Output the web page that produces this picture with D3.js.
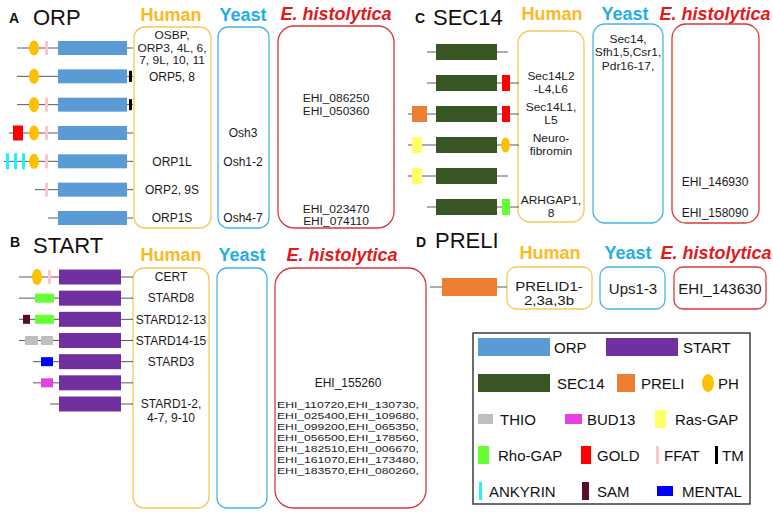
<!DOCTYPE html>
<html><head><meta charset="utf-8">
<script src="https://cdn.jsdelivr.net/npm/d3@7"></script>
<style>body{margin:0;background:#fff}svg{display:block}</style>
</head><body><svg id="c" width="773" height="515"></svg>
<script>
// ================= DATA =================
const domainTypes = ["ORP","START","SEC14","PRELI","PH","THIO","BUD13","Ras-GAP","Rho-GAP","GOLD","FFAT","TM","ANKYRIN","SAM","MENTAL"];

// domain architectures (positions in relative residue units along each protein)
const orpRows = [
  {span:[13,129], domains:[["PH",25,35],["FFAT",41,44],["ORP",54,123]]},
  {span:[13,129], domains:[["PH",25,35],["ORP",54,123],["TM",125,128]]},
  {span:[13,129], domains:[["PH",25,35],["FFAT",41,44],["ORP",54,123],["TM",125,128]]},
  {span:[5,129],  domains:[["GOLD",9,19],["PH",25,35],["FFAT",41,44],["ORP",54,123]]},
  {span:[0,129],  domains:[["ANKYRIN",2,5],["ANKYRIN",10,13],["ANKYRIN",18,21],["PH",25,35],["FFAT",41,44],["ORP",54,123]]},
  {span:[31,129], domains:[["FFAT",41,44],["ORP",54,123]]},
  {span:[44,129], domains:[["ORP",54,123]]}
];
const startRows = [
  {span:[16,130], domains:[["PH",29,39],["FFAT",45,48],["START",56,118]]},
  {span:[16,130], domains:[["Rho-GAP",32,51],["START",56,118]]},
  {span:[16,130], domains:[["SAM",20,27],["Rho-GAP",32,51],["START",56,118]]},
  {span:[16,130], domains:[["THIO",22,35],["THIO",38,50],["START",56,118]]},
  {span:[30,130], domains:[["MENTAL",38,50],["START",56,118]]},
  {span:[30,130], domains:[["BUD13",38,50],["START",56,118]]},
  {span:[47,130], domains:[["START",56,118]]}
];
const sec14Rows = [
  {span:[23,104], domains:[["SEC14",32,93]]},
  {span:[23,115], domains:[["SEC14",32,93],["GOLD",98,106]]},
  {span:[4,115],  domains:[["PRELI",8,23],["SEC14",32,93],["GOLD",98,106]]},
  {span:[4,115],  domains:[["Ras-GAP",8,18],["SEC14",32,93],["PH",97,106]]},
  {span:[4,104],  domains:[["Ras-GAP",8,18],["SEC14",32,93]]},
  {span:[23,115], domains:[["SEC14",32,93],["Rho-GAP",98,106]]}
];
const preliRows = [
  {span:[2,79], domains:[["PRELI",14,69]]}
];

// ortholog labels (at = row index they belong to)
const orpHuman = [
  {at:0, lines:["OSBP,","ORP3, 4L, 6,","7, 9L, 10, 11"]},
  {at:1, lines:["ORP5, 8"]},
  {at:4, lines:["ORP1L"]},
  {at:5, lines:["ORP2, 9S"]},
  {at:6, lines:["ORP1S"]}
];
const orpYeast = [
  {at:3, lines:["Osh3"]},
  {at:4, lines:["Osh1-2"]},
  {at:6, lines:["Osh4-7"]}
];
const orpEh = [
  {at:2, lines:["EHI_086250","EHI_050360"]},
  {at:5.9, lines:["EHI_023470","EHI_074110"]}
];
const startHuman = [
  {at:0, lines:["CERT"]},
  {at:1, lines:["STARD8"]},
  {at:2, lines:["STARD12-13"]},
  {at:3, lines:["STARD14-15"]},
  {at:4, lines:["STARD3"]},
  {at:6.33, lines:["STARD1-2,","4-7, 9-10"]}
];
const startYeast = [];
const startEhSingle = [
  {at:5, lines:["EHI_155260"]}
];
const startEhList = [
  {at:7.58, lines:["EHI_110720,EHI_130730,","EHI_025400,EHI_109680,","EHI_099200,EHI_065350,","EHI_056500,EHI_178560,","EHI_182510,EHI_006670,","EHI_161070,EHI_173480,","EHI_183570,EHI_080260,"]}
];
const sec14Human = [
  {at:1, lines:["Sec14L2","-L4,L6"]},
  {at:2, lines:["Sec14L1,","L5"]},
  {at:3, lines:["Neuro-","fibromin"]},
  {at:5, lines:["ARHGAP1,","8"]}
];
const sec14Yeast = [
  {at:0, lines:["Sec14,","Sfh1,5,Csr1,","Pdr16-17,"]}
];
const sec14Eh = [
  {at:4.2, lines:["EHI_146930"]},
  {at:5.2, lines:["EHI_158090"]}
];
const preliHuman = [{at:0.5, lines:["PRELID1-","2,3a,3b"]}];
const preliYeast = [{at:0.1, lines:["Ups1-3"]}];
const preliEh = [{at:0.15, lines:["EHI_143630"]}];

const legendRows = [
  ["ORP","START"],
  ["SEC14","PRELI","PH"],
  ["THIO","BUD13","Ras-GAP"],
  ["Rho-GAP","GOLD","FFAT","TM"],
  ["ANKYRIN","SAM","MENTAL"]
];

// ================= STYLE / LAYOUT =================
const FONT = "'Liberation Sans', Arial, Helvetica, sans-serif";
const colorScale = d3.scaleOrdinal().domain(domainTypes).range([
  "#5B9BD5","#7030A0","#375623","#ED7D31","#FFC000","#BFBFBF","#E63FE3",
  "#FFFF66","#66FF33","#FF0000","#F9C8CC","#000000","#22F2FF","#5E0A2C","#0000FF"]);
const C_HUMAN = "#FDB924", C_YEAST = "#1FAEE6", C_EH = "#E3191B";
const S_HUMAN = "#F6C95A", S_YEAST = "#45B5E4", S_EH = "#D9383A";
const LINE = "#5a5a5a";

const svg = d3.select("#c");

function drawArch(rows, xs, ys, heights){
  const g = svg.append("g");
  rows.forEach((r,i)=>{
    const y = ys(i);
    g.append("line").attr("x1",xs(r.span[0])).attr("x2",xs(r.span[1]))
      .attr("y1",y).attr("y2",y).attr("stroke",LINE).attr("stroke-width",1);
    r.domains.forEach(([t,a,b])=>{
      const h = heights[t] || heights.def;
      if(t==="PH"){
        g.append("ellipse").attr("cx",(xs(a)+xs(b))/2).attr("cy",y)
          .attr("rx",(xs(b)-xs(a))/2).attr("ry",h/2).attr("fill",colorScale(t));
      } else {
        g.append("rect").attr("x",xs(a)).attr("y",y-h/2)
          .attr("width",xs(b)-xs(a)).attr("height",h).attr("fill",colorScale(t));
      }
    });
  });
}
// sx: horizontal stretch; fitWidth: forced text width
function drawLabels(labels, cx, ys, fs, lh, sx, fitWidth){
  const g = svg.append("g").attr("transform",`translate(${cx},0) scale(${sx||1},1)`)
    .attr("font-family",FONT).attr("font-size",fs)
    .attr("fill","#1a1a1a").attr("text-anchor","middle");
  labels.forEach(l=>{
    const y0 = ys(l.at), n = l.lines.length;
    l.lines.forEach((s,i)=>{
      const t = g.append("text").attr("x",0).attr("y",y0 + (i-(n-1)/2)*lh + 0.35*fs).text(s);
      if(fitWidth) t.attr("textLength",fitWidth).attr("lengthAdjust","spacingAndGlyphs");
    });
  });
}
const multi = ls => ls.filter(l=>l.lines.length>1);
const single = ls => ls.filter(l=>l.lines.length===1);

function box(x0,y0,x1,y1,r,stroke){
  svg.append("rect").attr("x",x0).attr("y",y0).attr("width",x1-x0).attr("height",y1-y0)
    .attr("rx",r).attr("ry",r).attr("fill","none").attr("stroke",stroke).attr("stroke-width",1.3);
}
function heading(letter, lx, ly, name, nx, ny){
  svg.append("text").attr("x",lx).attr("y",ly).attr("font-family",FONT)
    .attr("font-weight","bold").attr("font-size",14).attr("fill","#111").text(letter);
  svg.append("text").attr("x",nx).attr("y",ny).attr("font-family",FONT)
    .attr("font-size",22).attr("fill","#111").text(name);
}
function colTitle(txt, cx, y, color, italic, fs){
  svg.append("text").attr("x",cx).attr("y",y).attr("text-anchor","middle")
    .attr("font-family",FONT).attr("font-weight","bold").attr("font-size",fs||18)
    .attr("font-style",italic?"italic":"normal").attr("fill",color).text(txt);
}

// ---------- Panel A: ORP ----------
heading("A",9,23,"ORP",33,25);
colTitle("Human",171,21,C_HUMAN); colTitle("Yeast",243,21,C_YEAST); colTitle("E. histolytica",336,20,C_EH,true);
box(134,27,211,228,11,S_HUMAN); box(218,27,269,228,10,S_YEAST); box(278,26,394,228,16,S_EH);
{
  const xs = d3.scaleLinear().domain([0,130]).range([4,134]);
  const ys = d3.scaleLinear().domain([0,orpRows.length-1]).range([48,218]);
  drawArch(orpRows, xs, ys, {ORP:14, PH:15, FFAT:14, TM:11, GOLD:15, ANKYRIN:16, def:14});
  drawLabels(multi(orpHuman),172,ys,10.6,12.3,1.13);
  drawLabels(single(orpHuman),172,ys,12,12.3);
  drawLabels(orpYeast,243,ys,12,12.4);
  drawLabels(orpEh,336,ys,11,12.6,1.09);
}

// ---------- Panel B: START ----------
heading("B",10,247,"START",33,253);
colTitle("Human",171,261,C_HUMAN); colTitle("Yeast",242,261,C_YEAST); colTitle("E. histolytica",342,261,C_EH,true);
box(133,268,209,508,11,S_HUMAN); box(217,268,267,508,10,S_YEAST); box(275,268,426,508,18,S_EH);
{
  const xs = d3.scaleLinear().domain([0,130]).range([3,133]);
  const ys = d3.scaleLinear().domain([0,startRows.length-1]).range([277,404]);
  drawArch(startRows, xs, ys, {START:15, PH:16, FFAT:14, def:9});
  drawLabels(startHuman,171,ys,12,13.5);
  drawLabels(startYeast,242,ys,12,13.5);
  drawLabels(startEhSingle,348,ys,12,11);
  drawLabels(startEhList,348,ys,9.5,11,1,142);
}

// ---------- Panel C: SEC14 ----------
heading("C",415,23,"SEC14",433,25);
colTitle("Human",552,20,C_HUMAN); colTitle("Yeast",625,20,C_YEAST); colTitle("E. histolytica",715,20,C_EH,true);
box(518,31,584,222,12,S_HUMAN); box(593,24,663,223,12,S_YEAST); box(672,24,759,223,14,S_EH);
{
  const xs = d3.scaleLinear().domain([0,115]).range([404,519]);
  const ys = d3.scaleLinear().domain([0,sec14Rows.length-1]).range([52,207]);
  drawArch(sec14Rows, xs, ys, {SEC14:16, PH:15, def:16});
  drawLabels(sec14Human,551,ys,11.2,13,1.07);
  drawLabels(sec14Yeast,628,ys,11.5,13.5,1.04);
  drawLabels(sec14Eh,715,ys,12,13);
}

// ---------- Panel D: PRELI ----------
heading("D",416,247,"PRELI",435,248);
colTitle("Human",550,259,C_HUMAN); colTitle("Yeast",628,259,C_YEAST); colTitle("E. histolytica",716,259,C_EH,true);
box(507,267,592,309,9,S_HUMAN); box(600,267,665,309,9,S_YEAST); box(674,267,766,309,9,S_EH);
{
  const xs = d3.scaleLinear().domain([0,80]).range([428,508]);
  const ys = d3.scaleLinear().domain([0,1]).range([287,301]);
  drawArch(preliRows, xs, ys, {PRELI:18, def:18});
  drawLabels(preliHuman,549,ys,12,14,1.25);
  drawLabels(preliYeast,633,ys,15,14);
  drawLabels(preliEh,720,ys,15,14);
}

// ---------- Legend ----------
// swatch x, swatch width, swatch height, label x
const legendLayout = {
  "ORP":[478,72,18,554], "START":[606,72,18,683],
  "SEC14":[478,72,18,557], "PRELI":[617,18,18,641], "PH":[702,12,18,718],
  "THIO":[478,15,10,500], "BUD13":[565,17,10,587], "Ras-GAP":[655,11,18,675],
  "Rho-GAP":[478,11,18,498], "GOLD":[581,10,18,597], "FFAT":[656,3,18,664], "TM":[715,3,18,722],
  "ANKYRIN":[479,3,18,489], "SAM":[582,7,18,597], "MENTAL":[657,16,10,682]
};
svg.append("rect").attr("x",473).attr("y",333).attr("width",277).attr("height",171)
  .attr("fill","none").attr("stroke","#3c3c3c").attr("stroke-width",1.5);
{
  const ly = d3.scalePoint().domain(d3.range(legendRows.length)).range([347,491]);
  const g = svg.append("g").attr("font-family",FONT).attr("font-size",15).attr("fill","#111");
  legendRows.forEach((row,ri)=>{
    const y = ly(ri);
    row.forEach(name=>{
      const [sx,sw,sh,tx] = legendLayout[name];
      if(name==="PH"){
        g.append("ellipse").attr("cx",sx+sw/2).attr("cy",y).attr("rx",sw/2).attr("ry",sh/2).attr("fill",colorScale(name));
      } else {
        g.append("rect").attr("x",sx).attr("y",y-sh/2).attr("width",sw).attr("height",sh).attr("fill",colorScale(name));
      }
      g.append("text").attr("x",tx).attr("y",y+5.5).text(name);
    });
  });
}
</script></body></html>
